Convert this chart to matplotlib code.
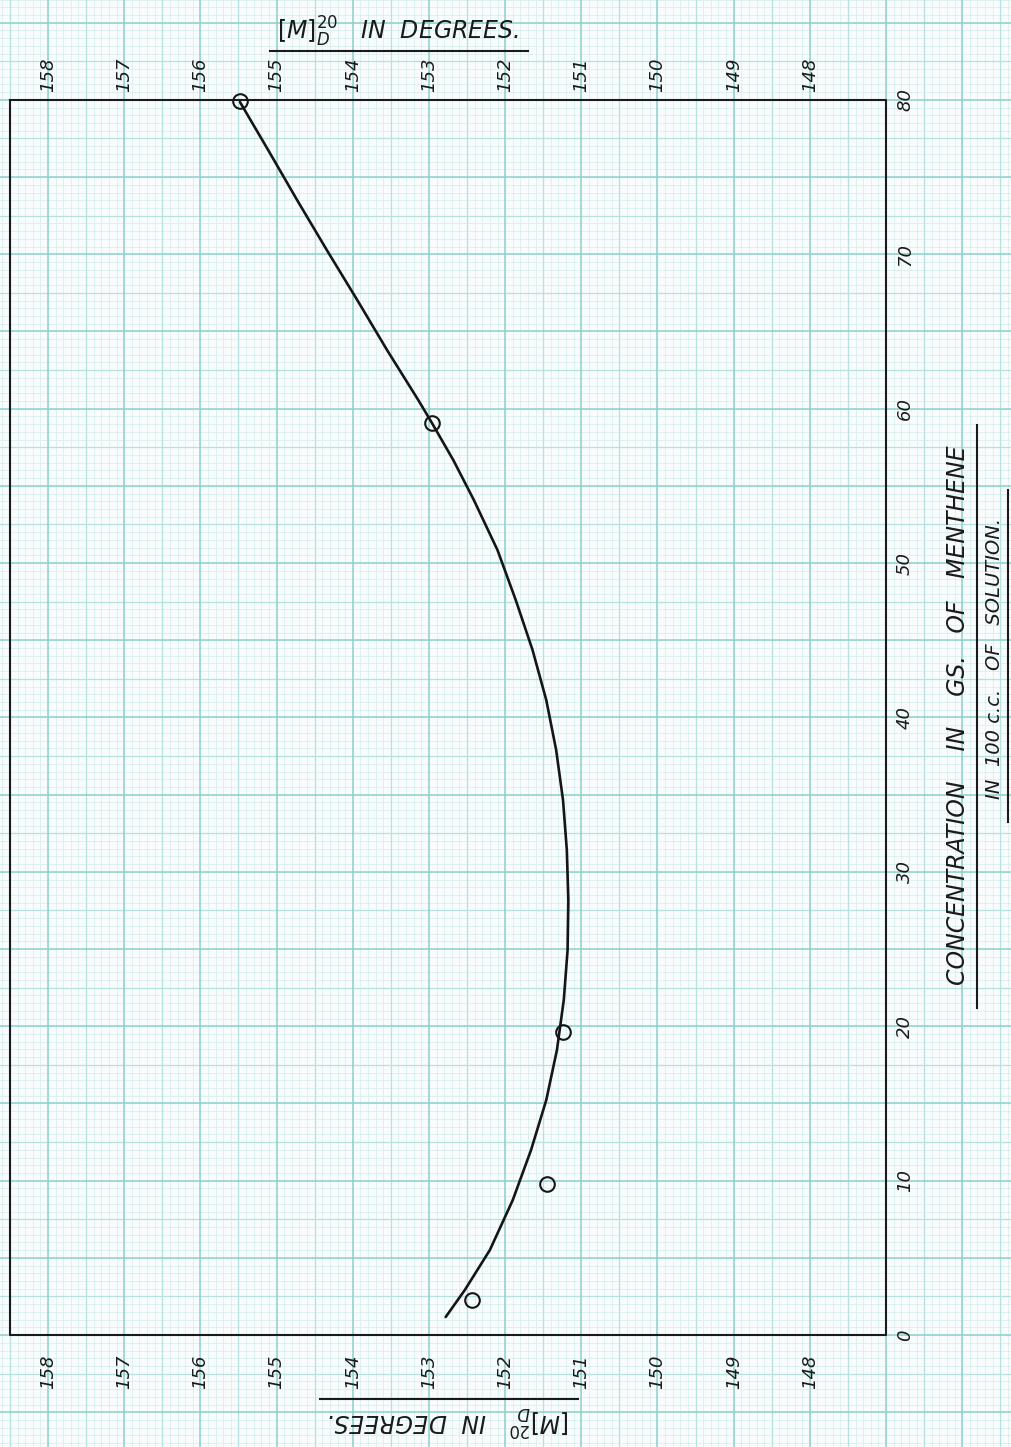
import matplotlib.pyplot as plt
import numpy as np

# Messpunkte: Konzentration (g / 100 c.c.) und [M]_D^20 (Grad)
conc_obs = [79.9, 59.1, 19.6, 9.8, 2.3]
rot_obs = [155.48, 152.96, 151.24, 151.45, 152.44]

# von Hand gezogene Kurve
curve_conc = [79.86, 76.75, 73.51, 70.27, 67.03, 63.80, 60.56, 59.07, 56.67,
              54.08, 50.84, 47.60, 44.37, 41.13, 37.89, 34.65, 31.41, 28.17,
              24.94, 21.70, 18.46, 15.22, 11.98, 8.74, 5.51, 2.91, 1.17]
curve_rot = [155.48, 155.11, 154.73, 154.34, 153.94, 153.55, 153.14, 152.96, 152.68,
             152.41, 152.10, 151.86, 151.64, 151.46, 151.33, 151.24, 151.19, 151.17,
             151.18, 151.23, 151.32, 151.46, 151.66, 151.90, 152.20, 152.53, 152.78]

rot_ticks = [158, 157, 156, 155, 154, 153, 152, 151, 150, 149, 148]
conc_ticks = [0, 10, 20, 30, 40, 50, 60, 70, 80]

W, H = 1011, 1447
fig = plt.figure(figsize=(W / 100, H / 100), dpi=100)
fig.patch.set_facecolor('#f8fcfc')
ax = fig.add_axes([0, 0, 1, 1])
ax.set_facecolor('#f8fcfc')

# Skala so, dass der Rahmen an der richtigen Stelle im Bild sitzt
ax.set_xlim(158.63, 145.36)
ax.set_ylim(-7.25, 86.47)

# Millimeterpapier
for v in np.arange(145.0, 159.01, 0.1):
    ax.axvline(v, color='#dbeeee', lw=0.6, zorder=0)
for v in np.arange(-10.0, 90.01, 0.5):
    ax.axhline(v, color='#dbeeee', lw=0.6, zorder=0)
for v in np.arange(145.5, 159.0, 1.0):
    ax.axvline(v, color='#b6e1df', lw=0.9, zorder=0)
for v in np.arange(-7.5, 90.0, 5.0):
    ax.axhline(v, color='#b6e1df', lw=0.9, zorder=0)
for v in np.arange(145, 160, 1):
    ax.axvline(v, color='#8ed1cc', lw=1.1, zorder=0)
for v in np.arange(-5, 90, 5):
    ax.axhline(v, color='#8ed1cc', lw=1.1, zorder=0)

ax.set_xticks([])
ax.set_yticks([])
for s in ax.spines.values():
    s.set_visible(False)

# Rahmen
x0, x1 = 158.5, 147.0
ax.plot([x0, x1, x1, x0, x0], [80, 80, 0, 0, 80], color='#1a1a1a', lw=1.5, zorder=3)

ax.plot(curve_rot, curve_conc, color='#151515', lw=1.9, zorder=4,
        solid_joinstyle='round', solid_capstyle='round')
ax.plot(rot_obs, conc_obs, 'o', ms=10.5, mfc='none', mec='#151515', mew=1.5, zorder=5)

xt = ax.get_xaxis_transform()
yt = ax.get_yaxis_transform()
font = dict(family='DejaVu Sans', style='italic', color='#1a1a1a')

for m in rot_ticks:
    ax.text(m, 1 - 75 / H, str(m), transform=xt, rotation=90, fontsize=13,
            ha='center', va='center', **font)
    ax.text(m, 1 - 1372 / H, str(m), transform=xt, rotation=90, fontsize=13,
            ha='center', va='center', **font)
for c in conc_ticks:
    ax.text(905 / W, c, str(c), transform=yt, rotation=90, fontsize=13,
            ha='center', va='center', **font)

title = r'$[M]_{D}^{20}$   IN  DEGREES.'
fig.text(398 / W, 1 - 32 / H, title, fontsize=17, ha='center', va='center', **font)
fig.add_artist(plt.Line2D([270 / W, 528 / W], [1 - 51 / H, 1 - 51 / H],
                          color='#1a1a1a', lw=1.5))
fig.text(449 / W, 1 - 1420 / H, title, fontsize=17, ha='center', va='center',
         rotation=180, **font)
fig.add_artist(plt.Line2D([320 / W, 578 / W], [1 - 1399 / H, 1 - 1399 / H],
                          color='#1a1a1a', lw=1.5))

fig.text(958 / W, 1 - 715 / H, 'CONCENTRATION    IN    GS.   OF   MENTHENE', fontsize=17,
         rotation=90, ha='center', va='center', **font)
fig.add_artist(plt.Line2D([977 / W, 977 / W], [1 - 1008 / H, 1 - 425 / H],
                          color='#1a1a1a', lw=1.5))
fig.text(995 / W, 1 - 658 / H, 'IN  100 c.c.   OF   SOLUTION.', fontsize=14,
         rotation=90, ha='center', va='center', **font)
fig.add_artist(plt.Line2D([1008 / W, 1008 / W], [1 - 822 / H, 1 - 490 / H],
                          color='#1a1a1a', lw=1.5))

fig.savefig('out.png', dpi=100, facecolor=fig.get_facecolor())
